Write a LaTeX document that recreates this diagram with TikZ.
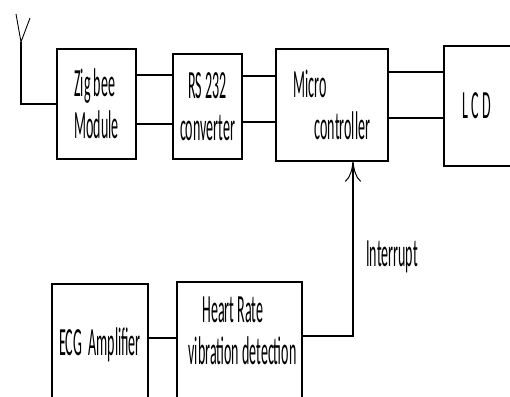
\documentclass[tikz,border=0pt]{standalone}
\usepackage{fontspec}
\setmainfont{Carlito}[FakeStretch=0.35]
\usetikzlibrary{positioning,arrows.meta}

\begin{document}
\begin{tikzpicture}[x=1pt,y=-1pt,
  block/.style={draw,line width=1.3pt,inner sep=0pt,align=center,
    font=\fontsize{40}{42}\selectfont},
  txt/.style={inner sep=0pt,font=\fontsize{40}{42}\selectfont},
  wire/.style={line width=1.3pt}]
\useasboundingbox (0,0) rectangle (510,396);
\clip (0,0) rectangle (510,396);
% top row
\node[block,align=left,minimum width=79pt,minimum height=110pt] (zig) at (96.5,104) {Zig bee\\Module};
\node[block,minimum width=69pt,minimum height=105pt] (rs) at (207.5,106.5) {RS 232\\converter};
\node[block,align=left,minimum width=112pt,minimum height=112pt] (micro) at (332,105) {Micro\\\hspace*{21pt}controller};
\node[block,minimum width=76pt,minimum height=120pt] (lcd) at (482,106) {L C D\hspace*{10pt}};
% bottom row (cut off at the lower edge)
\node[block,minimum width=96pt,minimum height=122pt] (ecg) at (100,345) {ECG~ Amplifier};
\node[block,minimum width=125pt,minimum height=140pt] (heart) at (239.5,352) {};
\node[txt,align=left] (hearttxt) at (242.5,331) {\hspace*{14pt}Heart Rate\\vibration detection};
\node[txt] (intr) at (392,257) {Interrupt};
% antenna
\coordinate (ant) at (21,42);
\draw[line width=0.9pt] (16,14) -- (ant) -- (30,18);
\draw[wire] (ant) |- (zig.west);
% links
\draw[wire] ([yshift=29pt]zig.east) -- ([yshift=29pt]zig.east -| rs.west);
\draw[wire] ([yshift=-20pt]zig.east) -- ([yshift=-20pt]zig.east -| rs.west);
\draw[wire] ([yshift=29pt]micro.west) -- ([yshift=29pt]micro.west -| rs.east);
\draw[wire] ([yshift=-17pt]micro.west) -- ([yshift=-17pt]micro.west -| rs.east);
\draw[wire] ([yshift=33pt]micro.east) -- ([yshift=33pt]micro.east -| lcd.west);
\draw[wire] ([yshift=-13pt]micro.east) -- ([yshift=-13pt]micro.east -| lcd.west);
\draw[wire] ([yshift=7pt]ecg.east) -- ([yshift=7pt]ecg.east -| heart.west);
\draw[wire,-{Computer Modern Rightarrow[length=20pt,width=16pt,line width=1pt]}]
  ([yshift=16pt]heart.east) -| ([xshift=21pt]micro.south);
\end{tikzpicture}
\end{document}
